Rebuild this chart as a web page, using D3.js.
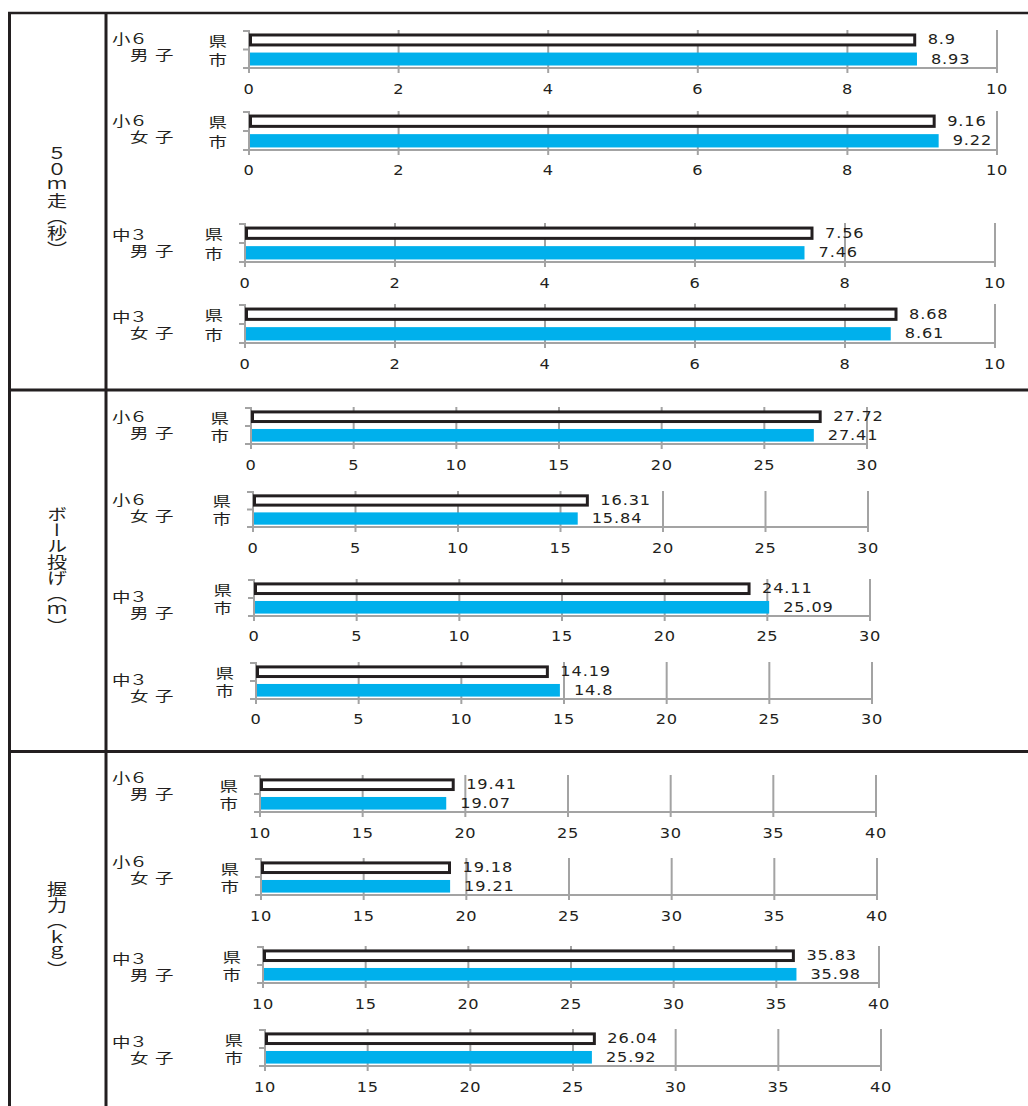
<!DOCTYPE html>
<html><head><meta charset="utf-8">
<script src="https://cdn.jsdelivr.net/npm/d3@7"></script>
<style>
html,body{margin:0;padding:0;background:#fff}
body{position:relative;width:1028px;height:1106px;overflow:hidden}
svg{display:block;position:absolute;left:0;top:0}
.vlabel{position:absolute;writing-mode:vertical-rl;font-family:'Noto Sans CJK JP',sans-serif;font-size:16px;line-height:16px;color:#231f20;white-space:nowrap}
</style>
</head><body>
<script>
// ---- data ----
const events = ["５０ｍ走（秒）", "ボール投げ（ｍ）", "握力（ｋｇ）"];
const gradeLabels = ["小６", "小６", "中３", "中３"];
const sexLabels = ["男子", "女子", "男子", "女子"];
const seriesNames = ["県", "市"];
const kenRun = [8.9, 9.16, 7.56, 8.68];
const shiRun = [8.93, 9.22, 7.46, 8.61];
const kenBall = [27.72, 16.31, 24.11, 14.19];
const shiBall = [27.41, 15.84, 25.09, 14.8];
const kenGrip = [19.41, 19.18, 35.83, 26.04];
const shiGrip = [19.07, 19.21, 35.98, 25.92];
const runTicks = [0, 2, 4, 6, 8, 10];
const ballTicks = [0, 5, 10, 15, 20, 25, 30];
const gripTicks = [10, 15, 20, 25, 30, 35, 40];

// ---- layout ----
const W = 1028, H = 1106;
const BLUE = "#00b0ec", DARK = "#231f20", GRID = "#a3a3a3";
const LAT = "'DejaVu Sans', Verdana, sans-serif";
const CJK = "'Noto Sans CJK JP', sans-serif";
const SX = 1.2;

const sections = [
  { label: events[0], ken: kenRun, shi: shiRun, ticks: runTicks, cy: 201,
    panels: [
      {x0: 249, x1: 997, t: 31, b: 68, gy: 38, ly: 89},
      {x0: 249, x1: 997, t: 112, b: 150, gy: 120, ly: 170},
      {x0: 245, x1: 995, t: 224, b: 262, gy: 234, ly: 283},
      {x0: 245, x1: 995, t: 305, b: 343, gy: 316, ly: 364}]},
  { label: events[1], ken: kenBall, shi: shiBall, ticks: ballTicks, cy: 570,
    panels: [
      {x0: 251, x1: 867, t: 408, b: 444, gy: 416, ly: 465},
      {x0: 253, x1: 868, t: 492, b: 527, gy: 499, ly: 548},
      {x0: 254, x1: 870, t: 580, b: 616, gy: 596, ly: 636},
      {x0: 256, x1: 872, t: 663, b: 699, gy: 679, ly: 719}]},
  { label: events[2], ken: kenGrip, shi: shiGrip, ticks: gripTicks, cy: 929,
    panels: [
      {x0: 260, x1: 876, t: 776, b: 812, gy: 777, ly: 833},
      {x0: 261, x1: 877, t: 859, b: 895, gy: 861, ly: 916},
      {x0: 263, x1: 879, t: 947, b: 983, gy: 958, ly: 1004},
      {x0: 265, x1: 881, t: 1030, b: 1066, gy: 1041, ly: 1087}]}
];

const svg = d3.select("body").append("svg").attr("width", W).attr("height", H);

function stext(sel, x, y, str, size, family, anchor, sx) {
  return sel.append("text")
    .attr("transform", `translate(${x},${y}) scale(${sx || SX},1)`)
    .attr("text-anchor", anchor || "start")
    .attr("dominant-baseline", "central")
    .attr("fill", DARK)
    .style("font-size", size + "px")
    .style("font-family", family)
    .text(str);
}

// ---- table frame ----
const frame = svg.append("g").attr("stroke", DARK).attr("fill", "none");
frame.append("line").attr("x1", 8).attr("x2", W).attr("y1", 13).attr("y2", 13).attr("stroke-width", 2.5);
frame.append("line").attr("x1", 9.5).attr("x2", 9.5).attr("y1", 12).attr("y2", H).attr("stroke-width", 3);
frame.append("line").attr("x1", 106).attr("x2", 106).attr("y1", 12).attr("y2", H).attr("stroke-width", 3);
frame.append("line").attr("x1", 8).attr("x2", W).attr("y1", 390).attr("y2", 390).attr("stroke-width", 3);
frame.append("line").attr("x1", 8).attr("x2", W).attr("y1", 751.5).attr("y2", 751.5).attr("stroke-width", 3);

sections.forEach(sec => {
  // vertical section title (HTML vertical writing for proper vertical glyph forms)
  d3.select("body").append("div")
    .attr("class", "vlabel")
    .style("left", "57px")
    .style("top", sec.cy + "px")
    .style("transform", "translate(-50%,-50%) scaleX(1.25)")
    .text(sec.label);

  sec.panels.forEach((p, i) => {
    const g = svg.append("g");
    const ticks = sec.ticks;
    const x = d3.scaleLinear().domain([ticks[0], ticks[ticks.length - 1]]).range([p.x0, p.x1]);
    const y = d3.scaleBand().domain(seriesNames).range([p.t, p.b]).paddingInner(0.32).paddingOuter(0.13);
    const bw = y.bandwidth();

    // gridlines + tick marks
    g.selectAll(".grid").data(ticks.slice(1)).join("line")
      .attr("x1", d => x(d)).attr("x2", d => x(d))
      .attr("y1", p.t - 1).attr("y2", p.b + 5)
      .attr("stroke", GRID).attr("stroke-width", 2);
    // x axis baseline
    g.append("line").attr("x1", p.x0).attr("x2", p.x1).attr("y1", p.b).attr("y2", p.b)
      .attr("stroke", GRID).attr("stroke-width", 2);
    // y axis
    g.append("line").attr("x1", p.x0).attr("x2", p.x0).attr("y1", p.t - 1).attr("y2", p.b + 5)
      .attr("stroke", GRID).attr("stroke-width", 2);
    g.selectAll(".ytick").data([p.t, (p.t + p.b) / 2, p.b]).join("line")
      .attr("x1", p.x0 - 6).attr("x2", p.x0).attr("y1", d => d).attr("y2", d => d)
      .attr("stroke", GRID).attr("stroke-width", 2);

    // tick labels
    ticks.forEach(tv => stext(g, x(tv), p.ly, String(tv), 13.5, LAT, "middle").style("letter-spacing", "0.5px"));

    // category labels
    seriesNames.forEach(s => stext(g, p.x0 - 22, y(s) + bw / 2, s, 14, CJK, "end", 1.32));

    // group labels
    stext(g, 112, p.gy, gradeLabels[i], 14, CJK, "start", 1.32).style("letter-spacing", "-1px");
    stext(g, 130, p.gy + 16, sexLabels[i], 14, CJK, "start", 1.32).style("letter-spacing", "5px");

    // bars
    const kv = sec.ken[i], sv = sec.shi[i];
    g.append("rect")
      .attr("x", p.x0 + 1.5).attr("y", y("県") + 1.5)
      .attr("width", x(kv) - p.x0 - 1.5).attr("height", bw - 3)
      .attr("fill", "#fff").attr("stroke", DARK).attr("stroke-width", 3);
    g.append("rect")
      .attr("x", p.x0 + 1).attr("y", y("市"))
      .attr("width", x(sv) - p.x0 - 1).attr("height", bw)
      .attr("fill", BLUE);

    // value labels
    stext(g, x(kv) + 13, y("県") + bw / 2, String(kv), 13.5, LAT, "start").style("letter-spacing", "0.7px");
    stext(g, x(sv) + 14, y("市") + bw / 2, String(sv), 13.5, LAT, "start").style("letter-spacing", "0.7px");
  });
});
</script>
</body></html>
